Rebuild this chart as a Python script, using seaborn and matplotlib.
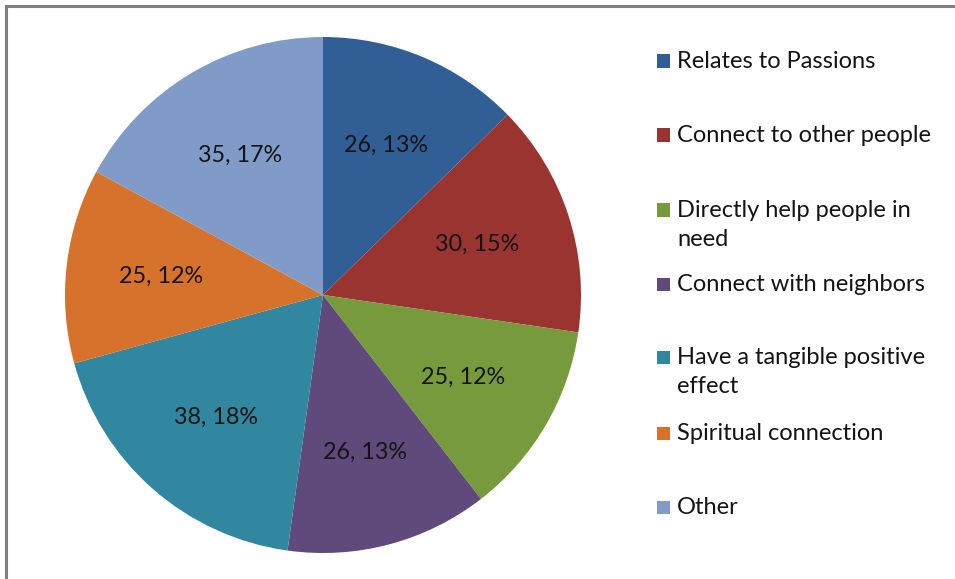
import matplotlib
matplotlib.use("Agg")
import matplotlib.pyplot as plt
from matplotlib.patches import Rectangle
import seaborn as sns

categories = [
    "Relates to Passions",
    "Connect to other people",
    "Directly help people in\nneed",
    "Connect with neighbors",
    "Have a tangible positive\neffect",
    "Spiritual connection",
    "Other",
]
counts = [26, 30, 25, 26, 38, 25, 35]
percents = [13, 15, 12, 13, 18, 12, 17]
slice_colors = ["#315E94", "#993431", "#779A3C", "#60497B", "#31879F", "#D7722C", "#809BC8"]

sns.set_theme(style="white")
plt.rcParams["font.family"] = ["Lato", "DejaVu Sans"]

palette = sns.color_palette(slice_colors)
label_iter = iter(f"{c}, {p}%" for c, p in zip(counts, percents))

fig = plt.figure(figsize=(9.55, 5.79), dpi=100)
W, H = 955, 579

# pie axes: centre (323, 295) px, radius 258 px
cx, cy, r = 323, 295, 258
ax = fig.add_axes([(cx - r) / W, (H - cy - r) / H, 2 * r / W, 2 * r / H])

wedges, _, autotexts = ax.pie(
    counts,
    colors=palette,
    startangle=90,
    counterclock=False,
    autopct=lambda p: next(label_iter),
    pctdistance=0.63,
    radius=1.0,
    wedgeprops=dict(linewidth=0),
    textprops=dict(fontsize=16.8, color="#141414"),
)
ax.set_xlim(-1, 1)
ax.set_ylim(-1, 1)
ax.set_aspect("equal")
ax.axis("off")

# legend: square markers with labels on the right
leg_x_box = 657 / W
leg_x_txt = 677 / W
first_line_y = [61, 135, 210, 284, 357, 433, 507]
box = 13
for lab, col, yy in zip(categories, palette, first_line_y):
    fig.add_artist(Rectangle((leg_x_box, (H - yy - box / 2) / H), box / W, box / H,
                             transform=fig.transFigure, facecolor=col, edgecolor="none"))
    fig.text(leg_x_txt, (H - yy + 10) / H, lab, fontsize=17, color="#141414",
             va="top", ha="left", linespacing=1.47, transform=fig.transFigure)

# chart frame
fig.add_artist(Rectangle((6 / W, -0.2), 1.5, 0.2 + (H - 6) / H,
                         transform=fig.transFigure, fill=False,
                         edgecolor="#7f7f7f", linewidth=2.2))

fig.savefig("out.png", dpi=100, facecolor="white")
